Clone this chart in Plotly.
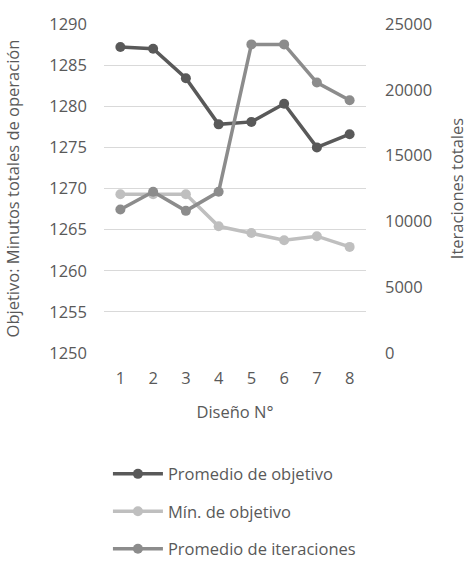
import plotly.graph_objects as go

disenos = [1, 2, 3, 4, 5, 6, 7, 8]
promedio_objetivo = [1287.2, 1287.0, 1283.4, 1277.8, 1278.1, 1280.3, 1275.0, 1276.6]
min_objetivo = [1269.3, 1269.3, 1269.3, 1265.4, 1264.6, 1263.7, 1264.2, 1262.9]
promedio_iteraciones = [10900, 12250, 10800, 12250, 23450, 23450, 20550, 19200]

left_ticks = [1250, 1255, 1260, 1265, 1270, 1275, 1280, 1285, 1290]
right_ticks = [0, 5000, 10000, 15000, 20000, 25000]
right_labels = ["0", "5000", "10000", "15000", "20000", "25000"]

FONT = "Open Sans"
TXT = "#595959"
TS = 16.5

fig = go.Figure()
fig.add_trace(go.Scatter(x=disenos, y=promedio_objetivo, name="Promedio de objetivo",
                         mode="lines+markers", line=dict(color="#595959", width=3.5),
                         marker=dict(size=10, color="#595959"), legendgroup="a"))
fig.add_trace(go.Scatter(x=disenos, y=min_objetivo, name="Mín. de objetivo",
                         mode="lines+markers", line=dict(color="#bfbfbf", width=3.5),
                         marker=dict(size=10, color="#bfbfbf"), legendgroup="b"))
fig.add_trace(go.Scatter(x=disenos, y=promedio_iteraciones, name="Promedio de iteraciones",
                         mode="lines+markers", line=dict(color="#8c8c8c", width=3.5),
                         marker=dict(size=10, color="#8c8c8c"), yaxis="y2", legendgroup="c"))

fig.update_layout(
    width=468, height=562,
    margin=dict(l=104, r=102, t=24, b=209, autoexpand=False),
    paper_bgcolor="white", plot_bgcolor="white",
    font=dict(family=FONT, size=TS, color=TXT),
    xaxis=dict(range=[0.5, 8.5], tickvals=disenos, showgrid=False, zeroline=False,
               showline=False, ticks="", ticklabelstandoff=13,
               tickfont=dict(size=TS, color=TXT),
               title=dict(text="Diseño N°", font=dict(size=TS, color=TXT), standoff=18)),
    yaxis=dict(range=[1250, 1290], tickvals=left_ticks, showgrid=True, gridcolor="#d9d9d9",
               gridwidth=1, zeroline=False, ticks="", ticklabelstandoff=16,
               tickfont=dict(size=TS, color=TXT),
               title=dict(text="Objetivo: Minutos totales de operación",
                          font=dict(size=TS, color=TXT), standoff=25)),
    yaxis2=dict(range=[0, 25000], tickvals=right_ticks, ticktext=right_labels, overlaying="y",
                side="right", showgrid=False, zeroline=False, ticks="", ticklabelstandoff=18,
                tickfont=dict(size=TS, color=TXT),
                title=dict(text="Iteraciones totales", font=dict(size=TS, color=TXT), standoff=20)),
    legend=dict(orientation="v", x=0.015, xanchor="left", y=-0.315, yanchor="top",
                font=dict(size=TS, color=TXT), tracegroupgap=13, itemwidth=50,
                traceorder="grouped", bgcolor="rgba(0,0,0,0)"),
    showlegend=True,
)

fig.write_html("out.html", config={"displayModeBar": False},
               post_script="document.body.style.margin='0';")
